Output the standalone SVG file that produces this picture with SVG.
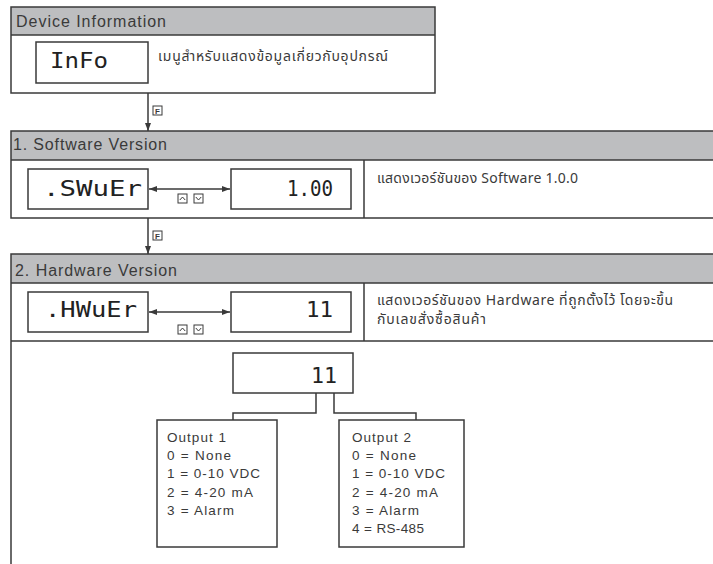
<svg xmlns="http://www.w3.org/2000/svg" width="713" height="564" viewBox="0 0 713 564">
<style>
.hdr{fill:#bdbec0}
.ln{stroke:#3a3a3a;stroke-width:1.5;fill:none}
.box{fill:#fff;stroke:#3a3a3a;stroke-width:1.5}
.t{font-family:"Liberation Sans","DejaVu Sans",sans-serif;fill:#3a3a3a}
.h{font-size:16px}
.o{font-size:13.5px}
.th{font-family:"Noto Sans Thai","Noto Sans","DejaVu Sans",sans-serif;font-size:14px;fill:#3a3a3a}
.seg{font-family:"DejaVu Sans Mono","Liberation Mono",monospace;fill:#222;font-size:21px}
.kb{fill:#fff;stroke:#3a3a3a;stroke-width:1}
.kl{font-family:"Liberation Sans",sans-serif;font-size:8px;font-weight:bold;fill:#3a3a3a}
</style>
<defs>
<marker id="ah" viewBox="0 0 8 6" refX="8" refY="3" markerWidth="8" markerHeight="6" markerUnits="userSpaceOnUse" orient="auto-start-reverse">
<path d="M0,0 L8,3 L0,6 Z" fill="#3a3a3a"/>
</marker>
<g id="up"><rect class="kb" x="0" y="0" width="9" height="9"/><path d="M1.8,6 L4.5,3 L7.2,6" fill="none" stroke="#3a3a3a" stroke-width="1"/></g>
<g id="dn"><rect class="kb" x="0" y="0" width="9" height="9"/><path d="M1.8,3 L4.5,6 L7.2,3" fill="none" stroke="#3a3a3a" stroke-width="1"/></g>
</defs>
<rect width="713" height="564" fill="#fff"/>

<g id="device-information">
<rect class="hdr" x="11" y="7" width="424" height="28"/>
<rect class="ln" x="11" y="7" width="424" height="86"/>
<line class="ln" x1="11" y1="35" x2="435" y2="35"/>
<rect class="box" x="36" y="42" width="112" height="41"/>
<text class="seg" x="50" y="68" textLength="58" lengthAdjust="spacingAndGlyphs">InFo</text>
<text class="t h" x="16" y="27" textLength="150">Device Information</text>
<text class="th" x="158" y="61" textLength="230">เมนูสำหรับแสดงข้อมูลเกี่ยวกับอุปกรณ์</text>
</g>

<g id="software-version">
<rect class="hdr" x="11" y="131" width="704" height="29"/>
<path class="ln" d="M714,131 H11 V218 H714 M11,160 H714 M364,160 V218"/>
<text class="t h" x="13" y="150" textLength="154">1. Software Version</text>
<rect class="box" x="28" y="169" width="120" height="40"/>
<text class="seg" x="43" y="196" textLength="99" lengthAdjust="spacingAndGlyphs">.SWuEr</text>
<rect class="box" x="231" y="169" width="120" height="40"/>
<text class="seg" x="287" y="196" textLength="46" lengthAdjust="spacingAndGlyphs">1.00</text>
<use href="#up" x="178" y="194"/>
<use href="#dn" x="194" y="194"/>
<text class="th" x="377" y="183" textLength="201">แสดงเวอร์ชันของ Software 1.0.0</text>
</g>

<g id="hardware-version">
<rect class="hdr" x="11" y="254" width="704" height="29"/>
<path class="ln" d="M714,254 H11 V564 M11,283 H714 M11,341 H714 M364,283 V341"/>
<text class="t h" x="15" y="276" textLength="162">2. Hardware Version</text>
<rect class="box" x="28" y="292" width="120" height="40"/>
<text class="seg" x="45" y="317" textLength="92" lengthAdjust="spacingAndGlyphs">.HWuEr</text>
<rect class="box" x="231" y="292" width="120" height="40"/>
<text class="seg" x="306" y="317" textLength="27" lengthAdjust="spacingAndGlyphs">11</text>
<use href="#up" x="178" y="325"/>
<use href="#dn" x="194" y="325"/>
<text class="th" x="377" y="305" textLength="296">แสดงเวอร์ชันของ Hardware ที่ถูกตั้งไว้ โดยจะขึ้น</text>
<text class="th" x="377" y="324" textLength="109">กับเลขสั่งซื้อสินค้า</text>
</g>

<g id="order-code">
<rect class="box" x="233" y="353" width="120" height="40"/>
<text class="seg" x="311" y="383" font-size="28" textLength="26" lengthAdjust="spacingAndGlyphs">11</text>
</g>

<g id="output-1">
<rect class="box" x="157" y="420" width="120" height="127"/>
<text class="t o" x="167" y="442" textLength="59">Output 1</text>
<text class="t o" x="167" y="460" textLength="64">0 = None</text>
<text class="t o" x="167" y="478" textLength="93">1 = 0-10 VDC</text>
<text class="t o" x="167" y="497" textLength="86">2 = 4-20 mA</text>
<text class="t o" x="167" y="515" textLength="67">3 = Alarm</text>
</g>

<g id="output-2">
<rect class="box" x="339" y="420" width="125" height="127"/>
<text class="t o" x="352" y="442" textLength="59">Output 2</text>
<text class="t o" x="352" y="460" textLength="64">0 = None</text>
<text class="t o" x="352" y="478" textLength="93">1 = 0-10 VDC</text>
<text class="t o" x="352" y="497" textLength="86">2 = 4-20 mA</text>
<text class="t o" x="352" y="515" textLength="67">3 = Alarm</text>
<text class="t o" x="352" y="533" textLength="72">4 = RS-485</text>
</g>

<g id="connectors">
<line class="ln" x1="148" y1="93" x2="148" y2="131" marker-end="url(#ah)"/>
<rect class="kb" x="153" y="106" width="9" height="9"/>
<text class="kl" x="155" y="114">F</text>
<line class="ln" x1="148" y1="218" x2="148" y2="254" marker-end="url(#ah)"/>
<rect class="kb" x="153" y="231" width="9" height="9"/>
<text class="kl" x="155" y="239">F</text>
<line class="ln" x1="149" y1="189" x2="230" y2="189" marker-start="url(#ah)" marker-end="url(#ah)"/>
<line class="ln" x1="149" y1="312" x2="230" y2="312" marker-start="url(#ah)" marker-end="url(#ah)"/>
<path class="ln" d="M316,393 V413 H233 V420"/>
<path class="ln" d="M334,393 V413 H416 V420"/>
</g>
</svg>
